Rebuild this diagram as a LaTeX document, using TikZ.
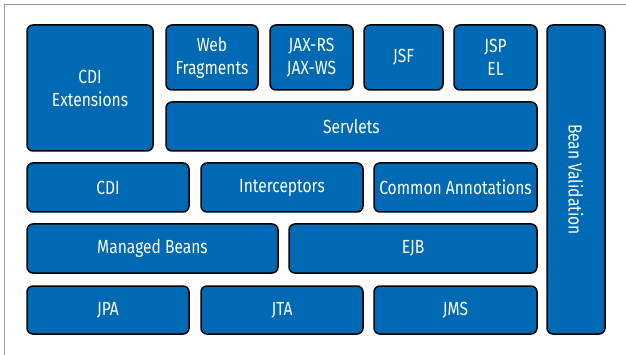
\documentclass[tikz,border=0pt]{standalone}
\usepackage{fontspec}
\setmainfont[FakeStretch=0.82]{Fira Sans}
\definecolor{jeeblue}{HTML}{0069B4}
\tikzset{
  block/.style={draw=black, line width=1.5pt, fill=jeeblue, rounded corners=6pt,
    text=white, align=center, inner sep=0pt, font=\fontsize{19}{23}\selectfont}
}
\begin{document}
\begin{tikzpicture}[x=1pt, y=-1pt]
    \useasboundingbox (0,0) rectangle (626,355);
    % frame
    \draw[gray!80, line width=1pt] (4,355) -- (4,5) -- (626,5);
    % top part
    \node[block, minimum width=126, minimum height=126] (cdiext) at (90,88) {CDI\\Extensions};
    \node[block, minimum width=92, minimum height=65] (webfrag) at (212,57.5) {Web\\Fragments};
    \node[block, minimum width=83, minimum height=65] (jaxrs) at (311.5,57.5) {JAX-RS\\JAX-WS};
    \node[block, minimum width=79, minimum height=65] (jsf) at (403.5,57.5) {JSF};
    \node[block, minimum width=83, minimum height=65] (jsp) at (495.5,57.5) {JSP\\EL};
    \node[block, minimum width=371, minimum height=49] (servlets) at (351.5,126.5) {Servlets};
    % bean validation column
    \node[block, minimum width=58, minimum height=309] (beanval) at (576,179.5) {};
    \node[text=white, font=\fontsize{19}{23}\selectfont, rotate=-90] (beanvaltext) at (beanval.center) {Bean Validation};
    % middle rows
    \node[block, minimum width=162, minimum height=49] (cdi) at (108,187.5) {CDI};
    \node[block, minimum width=162, minimum height=49] (interceptors) at (282,187.5) {Interceptors};
    \node[block, minimum width=163, minimum height=49] (annotations) at (455.5,187.5) {Common Annotations};
    \node[block, minimum width=251, minimum height=49] (managed) at (152.5,248.5) {Managed Beans};
    \node[block, minimum width=248, minimum height=49] (ejb) at (413,248.5) {EJB};
    % bottom row
    \node[block, minimum width=162, minimum height=48] (jpa) at (108,310) {JPA};
    \node[block, minimum width=162, minimum height=48] (jta) at (282,310) {JTA};
    \node[block, minimum width=163, minimum height=48] (jms) at (455.5,310) {JMS};
\end{tikzpicture}
\end{document}
